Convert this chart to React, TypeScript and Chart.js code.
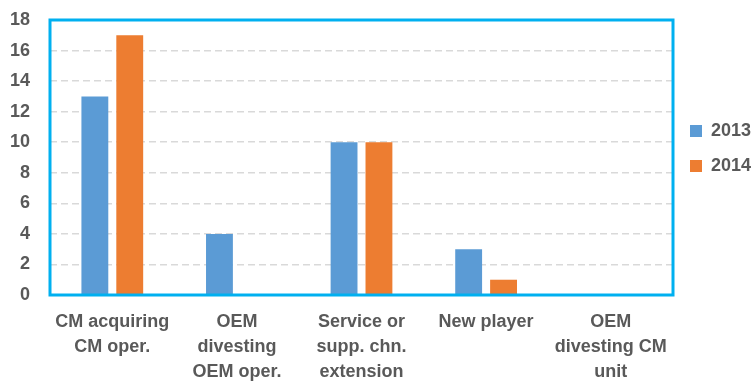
import React, { useEffect, useRef } from "react";
import { Chart, registerables } from "chart.js";

Chart.register(...registerables);

const categories: string[][] = [
  ["CM acquiring", "CM oper."],
  ["OEM", "divesting", "OEM oper."],
  ["Service or", "supp. chn.", "extension"],
  ["New player"],
  ["OEM", "divesting CM", "unit"],
];
const series2013 = [13, 4, 10, 3, 0];
const series2014 = [17, 0, 10, 1, 0];
const yTicks = { min: 0, max: 18, step: 2 };

const TEXT = "#595959";
const FONT = "'Liberation Sans', Arial, sans-serif";

const borderPlugin = {
  id: "plotBorder",
  afterDraw(chart: any) {
    const { ctx, chartArea } = chart;
    ctx.save();
    ctx.strokeStyle = "#00B0F0";
    ctx.lineWidth = 3;
    ctx.strokeRect(chartArea.left, chartArea.top, chartArea.right - chartArea.left, chartArea.bottom - chartArea.top);
    ctx.restore();
  },
};

export default function App() {
  const ref = useRef<HTMLCanvasElement>(null);
  useEffect(() => {
    document.body.style.margin = "0";
    const chart = new Chart(ref.current!, {
      type: "bar",
      data: {
        labels: categories,
        datasets: [
          { label: "2013", data: series2013, backgroundColor: "#5B9BD5", categoryPercentage: 0.56, barPercentage: 0.77 },
          { label: "2014", data: series2014, backgroundColor: "#ED7D31", categoryPercentage: 0.56, barPercentage: 0.77 },
        ],
      },
      options: {
        responsive: false,
        animation: false,
        layout: { padding: { top: 20, right: 0, bottom: 0, left: 0 } },
        plugins: {
          tooltip: { enabled: false },
          legend: {
            position: "right",
            align: "start",
            maxWidth: 80,
            title: { display: true, text: " ", font: { size: 1, lineHeight: 1 }, padding: { top: 84, bottom: 0 } },
            labels: {
              boxWidth: 12,
              boxHeight: 12,
              padding: 17,
              color: TEXT,
              font: { family: FONT, size: 18, weight: "bold", lineHeight: 1 },
            },
          },
        },
        scales: {
          x: {
            grid: { display: false, drawTicks: false },
            border: { display: false },
            ticks: {
              color: TEXT,
              padding: 14,
              maxRotation: 0,
              autoSkip: false,
              font: { family: FONT, size: 18, weight: "bold", lineHeight: 1.4 },
            },
            afterFit(scale: any) {
              scale.height = 88;
              scale.paddingLeft = 0;
              scale.paddingRight = 0;
            },
          },
          y: {
            min: yTicks.min,
            max: yTicks.max,
            grid: { color: "#D9D9D9", lineWidth: 1.5, drawTicks: false },
            border: { display: false, dash: [7, 4] },
            ticks: {
              stepSize: yTicks.step,
              color: TEXT,
              padding: 20,
              font: { family: FONT, size: 18, weight: "bold" },
            },
            afterFit(scale: any) {
              scale.width = 50;
              scale.paddingTop = 0;
              scale.paddingBottom = 0;
            },
          },
        },
      },
      plugins: [borderPlugin],
    } as any);
    return () => chart.destroy();
  }, []);
  return (
    <div style={{ position: "fixed", left: 0, top: 0, width: 753, height: 383 }}>
      <canvas ref={ref} width={753} height={383} />
    </div>
  );
}
